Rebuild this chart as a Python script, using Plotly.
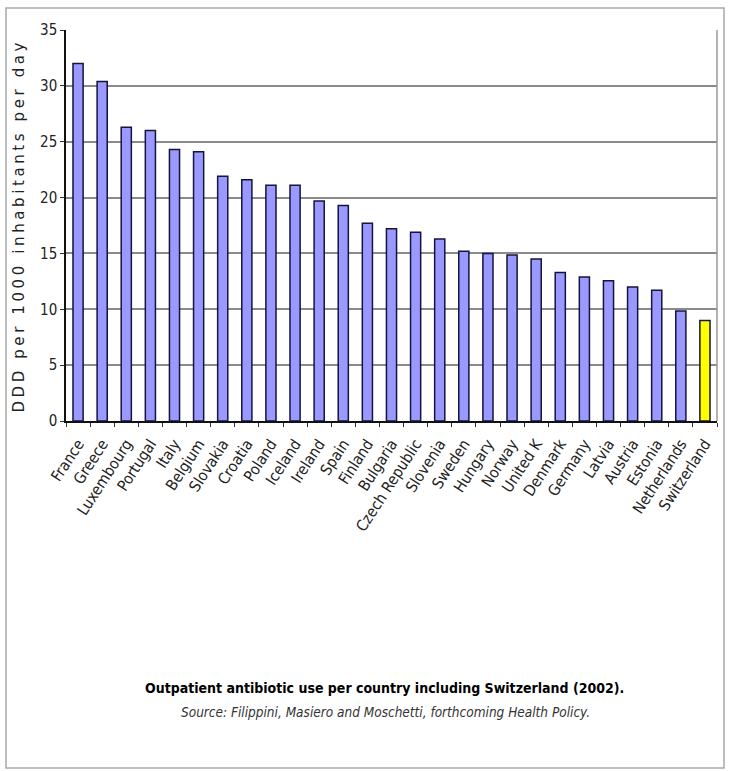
import plotly.graph_objects as go

countries = ["France", "Greece", "Luxembourg", "Portugal", "Italy", "Belgium", "Slovakia",
             "Croatia", "Poland", "Iceland", "Ireland", "Spain", "Finland", "Bulgaria",
             "Czech Republic", "Slovenia", "Sweden", "Hungary", "Norway", "United K",
             "Denmark", "Germany", "Latvia", "Austria", "Estonia", "Netherlands", "Switzerland"]
ddd = [32.0, 30.4, 26.3, 26.0, 24.3, 24.1, 21.9, 21.6, 21.1, 21.1, 19.7, 19.3, 17.7, 17.2,
       16.9, 16.3, 15.2, 15.0, 14.85, 14.5, 13.3, 12.9, 12.55, 12.0, 11.7, 9.85, 9.0]
highlight = "Switzerland"

y_ticks = [0, 5, 10, 15, 20, 25, 30, 35]
title_text = "Outpatient antibiotic use per country including Switzerland (2002)."
source_text = "Source: Filippini, Masiero and Moschetti, forthcoming Health Policy."
y_title = "DDD per 1000 inhabitants per day"

W, H = 734, 771
L, R, T, B = 66, 717, 30, 421


def px(x):
    return (x - L) / (R - L)


def py(y):
    return (B - y) / (B - T)


colors = ["#FFFF00" if c == highlight else "#9999FF" for c in countries]
narrow = "Liberation Sans Narrow, DejaVu Sans Condensed, Arial Narrow, sans-serif"

fig = go.Figure()
fig.add_trace(go.Bar(
    x=countries, y=ddd,
    marker=dict(color=colors, line=dict(color="#14143c", width=1.5)),
    width=0.42,
))

fig.update_layout(
    width=W, height=H,
    margin=dict(l=L, r=W - R, t=T, b=H - B),
    paper_bgcolor="white", plot_bgcolor="white",
    showlegend=False,
    font=dict(family=narrow, color="#111111"),
    xaxis=dict(
        tickangle=-57, tickfont=dict(family=narrow, size=15.5, color="#222222"),
        showline=True, linecolor="#111111", linewidth=1.5,
        ticks="outside", tickson="boundaries", ticklen=4, tickcolor="#333333",
        ticklabelstandoff=6,
        showgrid=False, range=[-0.5, 26.5],
    ),
    yaxis=dict(
        range=[0, 35], tickvals=y_ticks, ticktext=[str(v) for v in y_ticks],
        tickfont=dict(family=narrow, size=15, color="#222222"),
        showline=True, linecolor="#111111", linewidth=1.5,
        ticks="outside", ticklen=4, tickcolor="#333333",
        showgrid=True, gridcolor="#8a8a8a", gridwidth=1.5,
        zeroline=False,
    ),
    shapes=[
        dict(type="line", xref="paper", yref="paper", x0=1, x1=1, y0=0, y1=1,
             line=dict(color="#9a9a9a", width=1.5)),
        dict(type="rect", xref="paper", yref="paper",
             x0=px(6), x1=px(724), y0=py(768), y1=py(8),
             line=dict(color="#a8a8a8", width=1.5), fillcolor="rgba(0,0,0,0)", layer="below"),
    ],
    annotations=[
        dict(text=y_title, xref="paper", yref="paper", x=px(19), y=py(226),
             textangle=-90, showarrow=False, xanchor="center", yanchor="middle",
             font=dict(family="DejaVu Sans", size=15, color="#222222")),
        dict(text="<b>" + title_text + "</b>", xref="paper", yref="paper",
             x=px(384), y=py(688), showarrow=False, xanchor="center", yanchor="middle",
             font=dict(family=narrow, size=14, color="#000000")),
        dict(text="<i>" + source_text + "</i>", xref="paper", yref="paper",
             x=px(385), y=py(712), showarrow=False, xanchor="center", yanchor="middle",
             font=dict(family=narrow, size=13.5, color="#333333")),
    ],
)

post = """
var ann = document.querySelectorAll('.annotation-text');
if (ann.length) { ann[0].style.letterSpacing = '3.6px'; }
"""
fig.write_html("out.html", post_script=post)
